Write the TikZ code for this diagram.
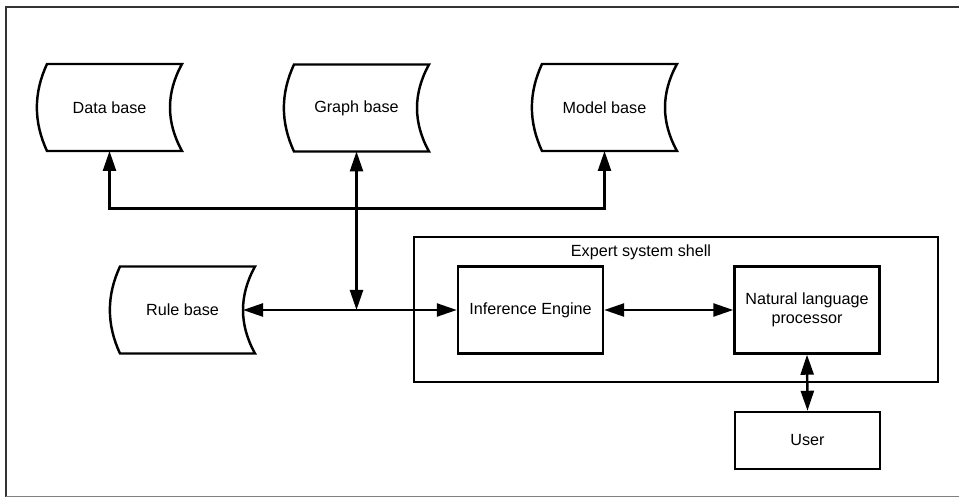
\documentclass[tikz,border=0pt]{standalone}
\usepackage{fontspec}
\setmainfont{Liberation Sans}
\usetikzlibrary{arrows.meta,positioning,calc}

\begin{document}
\begin{tikzpicture}[
  font=\fontsize{9.2}{11}\selectfont,
  line width=1.4pt,
  box/.style={draw, rectangle, minimum width=2.9cm, minimum height=1.74cm, align=center},
  store/.style={rectangle, minimum width=2.9cm, minimum height=1.74cm, outer sep=0pt},
  ptr/.style={<->, >={Triangle[length=4mm,width=2.6mm]}}
]
\useasboundingbox (0,0) rectangle (19.18,9.96);
% page frame
\draw[black!80] (0.12,0.03) |- (19.4,9.82);
\draw[gray, line width=1pt] (0.12,0.03) -- (19.18,0.03);

% the four stores
\node[store] (db) at (2.19,7.81) {Data base};
\node[store] (gb) at (7.13,7.80) {Graph base};
\node[store] (mb) at (12.09,7.81) {Model base};
\node[store] (rb) at (3.65,3.76) {Rule base};
\foreach \n in {db,gb,mb,rb}
  \draw ([xshift=2mm]\n.north west) -- (\n.north east)
    .. controls +(-0.32,-0.58) and +(-0.32,0.58) .. (\n.south east)
    -- ([xshift=2mm]\n.south west)
    .. controls +(-0.27,0.58) and +(-0.27,-0.58) .. ([xshift=2mm]\n.north west) -- cycle;

% shell and its parts
\node[box, minimum width=10.48cm, minimum height=2.9cm] (shell) at (13.52,3.77) {};
\node (title) at (12.82,4.92) {Expert system shell};
\node[box] (ie) at (10.61,3.76) {Inference Engine};
\node[box] (nlp) at (16.14,3.76) {Natural language\\processor};
\node[box, minimum height=1.14cm] (user) at (16.15,1.15) {User};

\coordinate (bus) at ($(gb.south)+(0,-1.14)$);
\coordinate (junc) at (gb.south |- ie.west);
\draw[ptr] (db.south) |- (bus) -| (mb.south);
\draw[ptr] (gb.south) -- (junc);
\draw[ptr] ([xshift=-0.24cm]rb.east) -- (ie.west);
\draw[ptr] (ie.east) -- (nlp.west);
\draw[ptr] (nlp.south) -- (user.north);
\end{tikzpicture}
\end{document}
